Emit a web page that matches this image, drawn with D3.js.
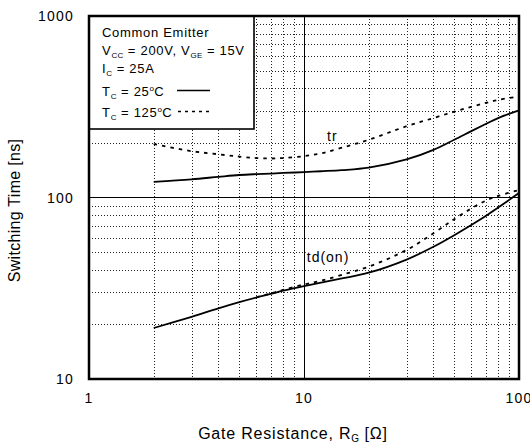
<!DOCTYPE html>
<html>
<head>
<meta charset="utf-8">
<script src="https://cdn.jsdelivr.net/npm/d3@7"></script>
<style>
  body { margin: 0; background: #fff; }
  svg { display: block; font-family: "Liberation Sans", Arial, sans-serif; }
</style>
</head>
<body>
<div id="chart"></div>
<script>
    // gate resistance (ohm) sample points
    var rg = [2, 3, 4, 5, 6, 7, 8, 10, 12, 15, 20, 30, 40, 50, 60, 70, 80, 100];
    // switching times [ns]
    var tr25 = [122, 126, 130, 133, 134.5, 135.5, 136.5, 138, 139.5, 141.5, 146, 162, 183, 208, 232, 254, 274, 302];
    var tr125 = [197, 180, 173, 168, 165, 164, 165, 169, 175, 188, 208, 247, 274, 297, 316, 332, 345, 360];
    var tdon25 = [19.1, 22, 24.5, 26.5, 28.1, 29.4, 30.7, 32.5, 34, 35.8, 38.5, 45.5, 53.5, 62, 70.5, 79, 88, 106];
    var rgHot = [6, 7, 8, 10, 12, 15, 20, 30, 40, 50, 60, 70, 80, 100];
    var tdon125 = [28.2, 29.6, 31.0, 33.2, 34.8, 37.5, 41.6, 51.4, 63.5, 76, 87, 96, 102, 110];

    var xTicks = [1, 10, 100];
    var yTicks = [10, 100, 1000];
    var xMinor = [2, 3, 4, 5, 6, 7, 8, 9, 20, 30, 40, 50, 60, 70, 80, 90];
    var yMinor = [20, 30, 40, 50, 60, 70, 80, 90, 200, 300, 400, 500, 600, 700, 800, 900];

    var margin = { top: 16, right: 11, bottom: 66, left: 89 },
        width = 530 - margin.left - margin.right,
        height = 445 - margin.top - margin.bottom;

    var svg = d3.select("#chart").append("svg")
        .attr("width", 530)
        .attr("height", 445)
        .append("g")
        .attr("transform", "translate(" + margin.left + "," + margin.top + ")");

    var x = d3.scaleLog().domain([1, 100]).range([0, width]);
    var y = d3.scaleLog().domain([10, 1000]).range([height, 0]);

    // dotted minor grid
    svg.selectAll(".xminor")
        .data(xMinor)
        .enter().append("line")
        .attr("x1", function(d) { return Math.round(x(d)) + 0.5; })
        .attr("x2", function(d) { return Math.round(x(d)) + 0.5; })
        .attr("y1", 0)
        .attr("y2", height)
        .style("stroke", "#222")
        .style("stroke-width", 1)
        .style("stroke-dasharray", "1,2")
        .style("shape-rendering", "crispEdges");

    svg.selectAll(".yminor")
        .data(yMinor)
        .enter().append("line")
        .attr("x1", 0)
        .attr("x2", width)
        .attr("y1", function(d) { return Math.round(y(d)) + 0.5; })
        .attr("y2", function(d) { return Math.round(y(d)) + 0.5; })
        .style("stroke", "#222")
        .style("stroke-width", 1)
        .style("stroke-dasharray", "1,2")
        .style("shape-rendering", "crispEdges");

    // major lines (inner decades only)
    svg.append("line")
        .attr("x1", Math.round(x(10)) + 0.5).attr("x2", Math.round(x(10)) + 0.5)
        .attr("y1", 0).attr("y2", height)
        .style("stroke", "#000").style("stroke-width", 1)
        .style("shape-rendering", "crispEdges");
    svg.append("line")
        .attr("x1", 0).attr("x2", width)
        .attr("y1", Math.round(y(100)) + 0.5).attr("y2", Math.round(y(100)) + 0.5)
        .style("stroke", "#000").style("stroke-width", 1)
        .style("shape-rendering", "crispEdges");

    var line = d3.line()
        .x(function(d) { return x(d[0]); })
        .y(function(d) { return y(d[1]); })
        .curve(d3.curveCatmullRom.alpha(0.5));

    var series = [
        { xs: rg, ys: tr25, dash: null },
        { xs: rg, ys: tr125, dash: "3.5,5" },
        { xs: rg, ys: tdon25, dash: null },
        { xs: rgHot, ys: tdon125, dash: "3.5,5" }
    ];

    series.forEach(function(s) {
        svg.append("path")
            .datum(s.xs.map(function(v, i) { return [v, s.ys[i]]; }))
            .attr("d", line)
            .style("fill", "none")
            .style("stroke", "#000")
            .style("stroke-width", 1.8)
            .style("stroke-dasharray", s.dash);
    });

    // curve labels with white backing
    var curveLabels = [
        { text: "tr", at: [12.8, 205] },
        { text: "td(on)", at: [10.3, 44] }
    ];
    curveLabels.forEach(function(c) {
        var t = svg.append("text")
            .attr("x", x(c.at[0]))
            .attr("y", y(c.at[1]))
            .style("font-size", "14px")
            .style("letter-spacing", "1px")
            .text(c.text);
        var bb = t.node().getBBox();
        svg.insert("rect", function() { return t.node(); })
            .attr("x", bb.x - 1).attr("y", bb.y + 1)
            .attr("width", bb.width + 1).attr("height", bb.height - 2)
            .style("fill", "#fff");
    });

    // legend box
    svg.append("rect")
        .attr("x", 0).attr("y", 0)
        .attr("width", 165).attr("height", 113)
        .style("fill", "#fff")
        .style("stroke", "#000")
        .style("stroke-width", 1.6);

    // rich text helper: part = [text, kind] kind 0 normal, 1 subscript, 2 superscript
    function richText(t, parts, size) {
        var shift = 0;
        parts.forEach(function(part) {
            var target = part[1] === 1 ? 3 : (part[1] === 2 ? -5 : 0);
            var sp = t.append("tspan")
                .attr("dy", target - shift)
                .text(part[0]);
            if (part[1] !== 0) sp.style("font-size", size + "px").style("letter-spacing", "0.3px");
            shift = target;
        });
    }

    var legendRows = [
        [["Common Emitter", 0]],
        [["V", 0], ["CC", 1], [" = 200V, V", 0], ["GE", 1], [" = 15V", 0]],
        [["I", 0], ["C", 1], [" = 25A", 0]],
        [["T", 0], ["C", 1], [" = 25", 0], ["o", 2], ["C", 0]],
        [["T", 0], ["C", 1], [" = 125", 0], ["o", 2], ["C", 0]]
    ];
    var legendY = [20.5, 39, 57, 80, 100.5];

    legendRows.forEach(function(row, i) {
        var t = svg.append("text")
            .attr("x", 13)
            .attr("y", legendY[i])
            .style("font-size", "13px")
            .style("letter-spacing", "0.7px");
        richText(t, row, 8);
    });

    svg.append("line")
        .attr("x1", 88).attr("x2", 121)
        .attr("y1", 74.5).attr("y2", 74.5)
        .style("stroke", "#000").style("stroke-width", 1.6);
    svg.append("line")
        .attr("x1", 89).attr("x2", 122)
        .attr("y1", 95.5).attr("y2", 95.5)
        .style("stroke", "#000").style("stroke-width", 1.6)
        .style("stroke-dasharray", "3,4");

    // frame
    svg.append("rect")
        .attr("x", 0).attr("y", 0)
        .attr("width", width).attr("height", height)
        .style("fill", "none")
        .style("stroke", "#000")
        .style("stroke-width", 2.5);

    // tick labels
    svg.selectAll(".xlabel")
        .data(xTicks)
        .enter().append("text")
        .attr("x", function(d) { return x(d); })
        .attr("y", height + 24)
        .style("text-anchor", "middle")
        .style("font-size", "14px")
        .style("letter-spacing", "1.2px")
        .text(function(d) { return d; });

    svg.selectAll(".ylabel")
        .data(yTicks)
        .enter().append("text")
        .attr("x", -15)
        .attr("y", function(d) { return y(d) + 5; })
        .style("text-anchor", "end")
        .style("font-size", "14px")
        .style("letter-spacing", "1.2px")
        .text(function(d) { return d; });

    // axis titles
    var xt = svg.append("text")
        .attr("x", width / 2 - 11)
        .attr("y", height + 60)
        .style("text-anchor", "middle")
        .style("font-size", "16px")
        .style("letter-spacing", "0.8px");
    richText(xt, [["Gate Resistance, R", 0], ["G", 1], [" [Ω]", 0]], 10);

    svg.append("text")
        .attr("transform", "translate(-69," + (height / 2 + 13) + ") rotate(-90)")
        .style("text-anchor", "middle")
        .style("font-size", "16px")
        .style("letter-spacing", "0.3px")
        .text("Switching Time [ns]");
</script>
</body>
</html>
